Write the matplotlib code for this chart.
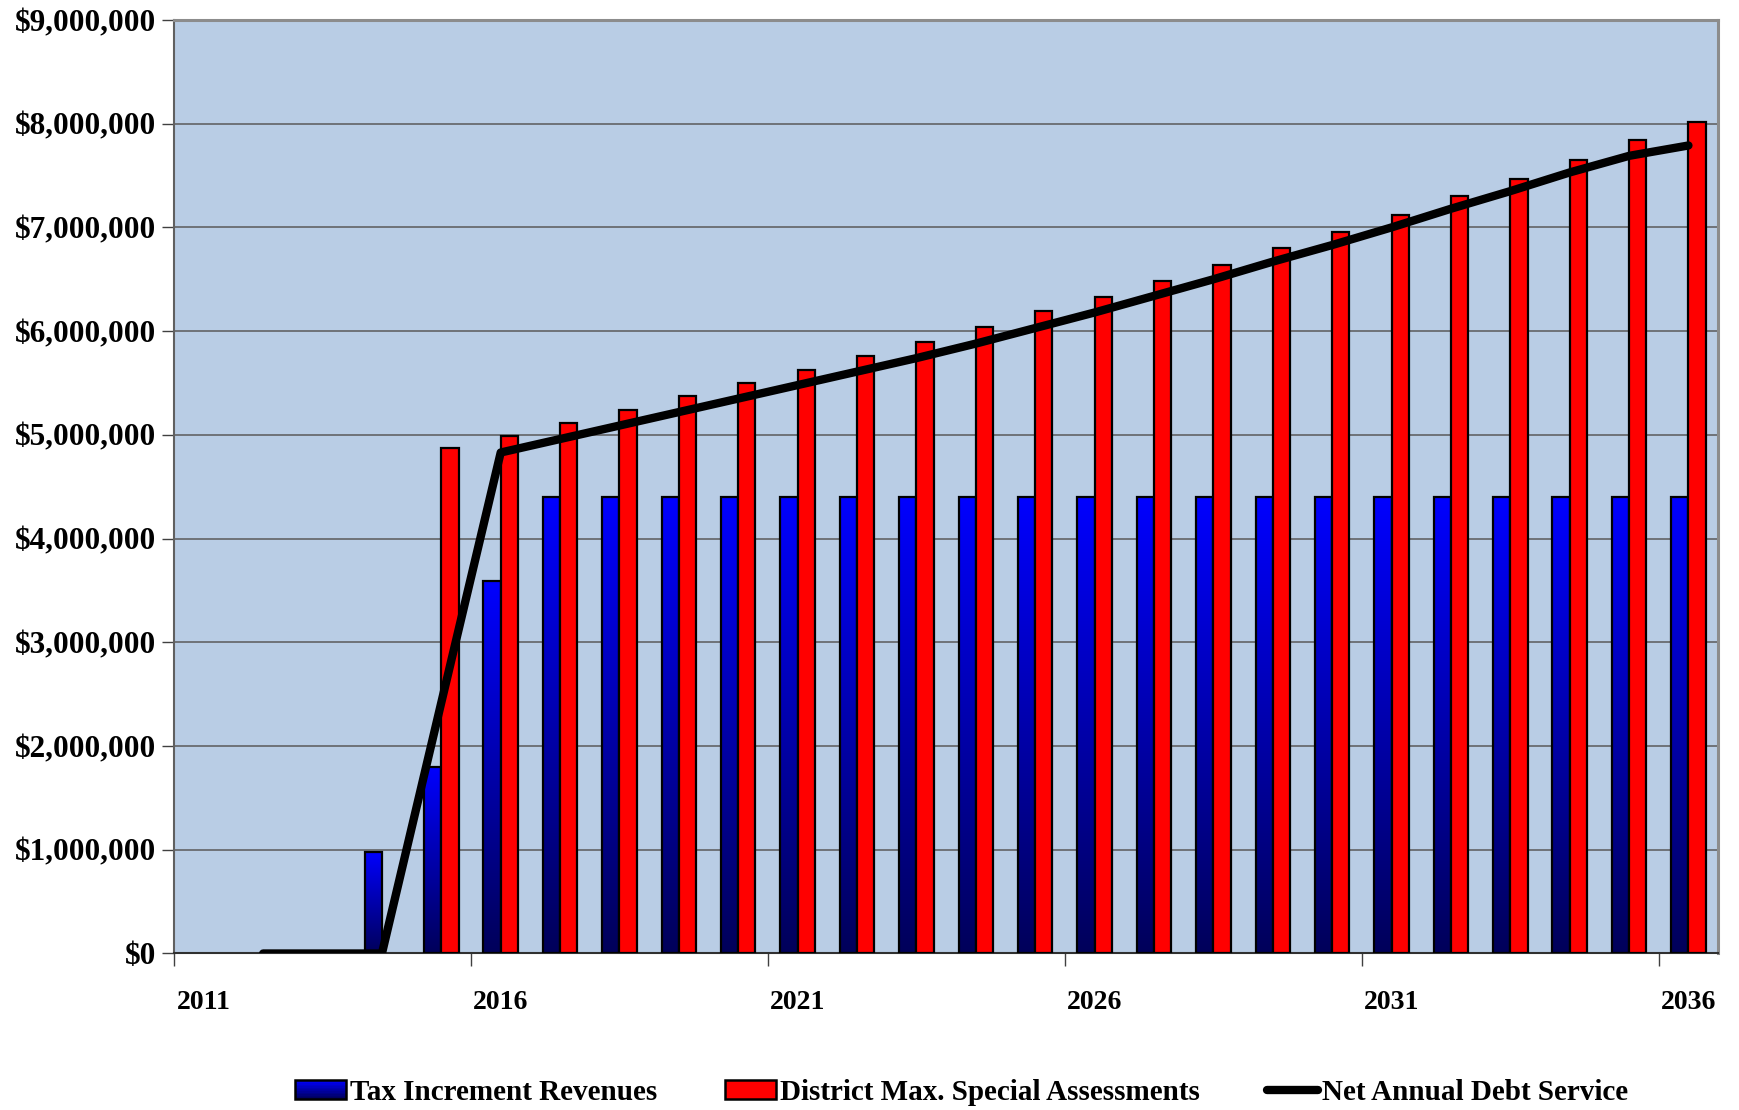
import numpy as np
import matplotlib
matplotlib.use('Agg')
import matplotlib.pyplot as plt
from matplotlib.patches import Rectangle
from matplotlib.legend_handler import HandlerBase
from matplotlib.lines import Line2D
from matplotlib.colors import LinearSegmentedColormap

plt.rcParams['font.family'] = ['Liberation Serif', 'DejaVu Serif']
plt.rcParams['font.weight'] = 'bold'

# data (values in dollars)
years = list(range(2011, 2037))
tax_increment = [np.nan, np.nan, np.nan, 980000, 1800000, 3590000] + [4400000] * 20
special_assess = [np.nan, np.nan, np.nan, np.nan, 4870000, 4990000, 5110000, 5240000,
                  5370000, 5500000, 5630000, 5760000, 5900000, 6040000, 6190000,
                  6330000, 6480000, 6640000, 6800000, 6960000, 7120000, 7300000,
                  7470000, 7650000, 7840000, 8020000]
debt_service = [np.nan, 0, 0, 0, 2420000, 4830000, 4960000, 5090000, 5220000, 5350000,
                5480000, 5610000, 5740000, 5880000, 6030000, 6180000, 6340000, 6500000,
                6670000, 6830000, 7000000, 7180000, 7350000, 7530000, 7690000, 7790000]
label_years = ['2011', '2016', '2021', '2026', '2031', '2036']

blue_grad = LinearSegmentedColormap.from_list('bg', ['#00005A', '#0000FF'])
grad = np.linspace(0, 1, 256).reshape(-1, 1)

fig = plt.figure(figsize=(17.39, 11.10), dpi=100)
ax = fig.add_axes([0.1001, 0.141, 0.8879, 0.841])
ax.set_facecolor('#B9CDE5')

x = np.arange(len(years))
w = 0.29

# gradient blue bars
for xi, v in zip(x, tax_increment):
    if np.isnan(v):
        continue
    ax.imshow(grad, extent=[xi - w, xi, 0, v], origin='lower', cmap=blue_grad,
              aspect='auto', zorder=2)
    ax.add_patch(Rectangle((xi - w, 0), w, v, fill=False, edgecolor='black',
                           linewidth=1.6, zorder=3))

sa = np.array(special_assess)
ok = ~np.isnan(sa)
ax.bar(x[ok], sa[ok], width=w, align='edge', color='#FF0000', edgecolor='black',
       linewidth=1.6, zorder=3)

ax.plot(x, debt_service, color='black', linewidth=6, solid_capstyle='round',
        solid_joinstyle='round', zorder=4)

ax.set_xlim(-0.5, len(years) - 0.5)
ax.set_ylim(0, 9000000)

ax.set_yticks(np.arange(0, 9000001, 1000000))
ax.set_yticklabels(['${:,.0f}'.format(v) for v in np.arange(0, 9000001, 1000000)])
ax.yaxis.grid(True, color='#5A5A5A', linewidth=1.1, zorder=1)
ax.set_axisbelow(True)

# ticks at category boundaries every 5, labels at category centres
ax.set_xticks(np.arange(-0.5, len(years), 5))
ax.set_xticklabels([])
ax.set_xticks(np.arange(0, len(years), 5), minor=True)
ax.set_xticklabels(label_years, minor=True)
ax.tick_params(axis='x', which='major', length=9, width=1, color='#404040')
ax.tick_params(axis='x', which='minor', length=0, pad=26, labelsize=20)
ax.tick_params(axis='y', length=9, width=1, color='#404040', pad=4, labelsize=22.5)

for s in ['top', 'right']:
    ax.spines[s].set_color('#8C8C8C')
    ax.spines[s].set_linewidth(2.2)
ax.spines['left'].set_color('#606060')
ax.spines['left'].set_linewidth(1.5)
ax.spines['bottom'].set_color('#303030')
ax.spines['bottom'].set_linewidth(1.5)


class GradientHandler(HandlerBase):
    def create_artists(self, legend, orig_handle, xdescent, ydescent, width, height,
                       fontsize, trans):
        arts = []
        n = 12
        for i in range(n):
            c = blue_grad(1 - (i + 0.5) / n)
            r = Rectangle((-xdescent, -ydescent + height * (n - 1 - i) / n), width,
                          height / n, facecolor=c, edgecolor='none', transform=trans)
            arts.append(r)
        arts.append(Rectangle((-xdescent, -ydescent), width, height, fill=False,
                              edgecolor='black', linewidth=1.8, transform=trans))
        return arts


h_blue = Rectangle((0, 0), 1, 1)
h_red = Rectangle((0, 0), 1, 1, facecolor='#FF0000', edgecolor='black', linewidth=1.8)
h_line = Line2D([], [], color='black', linewidth=6, solid_capstyle='round')

fig.legend([h_blue, h_red, h_line],
           ['Tax Increment Revenues', 'District Max. Special Assessments',
            'Net Annual Debt Service'],
           handler_map={h_blue: GradientHandler()},
           loc='center', bbox_to_anchor=(0.553, 0.016), ncol=3, frameon=False,
           fontsize=21, handlelength=1.75, handleheight=0.6, handletextpad=0.15,
           columnspacing=2.3)

fig.savefig('out.png', dpi=100)
